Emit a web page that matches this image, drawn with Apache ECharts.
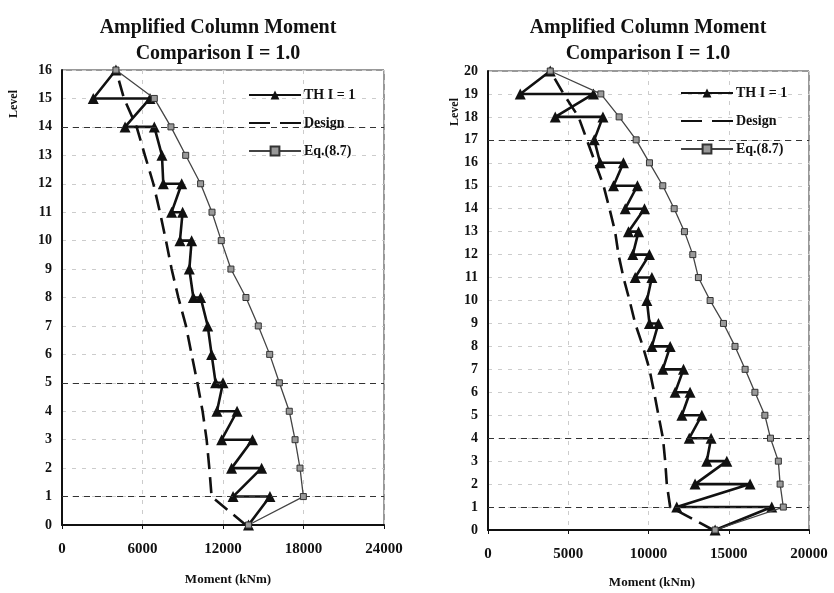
<!DOCTYPE html>
<html>
<head>
<meta charset="utf-8">
<script src="https://cdn.jsdelivr.net/npm/echarts@6/dist/echarts.min.js"></script>
<style>
  html, body { margin: 0; padding: 0; background: #ffffff; }
  #chart { width: 834px; height: 593px; }
</style>
</head>
<body>
<div id="chart"></div>
<script>
// ---- 16-storey frame (left panel) ----
const levelsLeft = [0, 1, 2, 3, 4, 5, 6, 7, 8, 9, 10, 11, 12, 13, 14, 15, 16];
// time-history moments: value reached at each level, then value leaving it
const thLeftHi = [13900, 15500, 14880, 14200, 13050, 12000, 11150, 10860, 10330, 9490, 9660, 8990, 8920, 7450, 6880, 6560, 4020];
const thLeftLo = [13900, 12750, 12640, 11900, 11550, 11450, 11150, 10860, 9790, 9490, 8790, 8170, 7550, 7450, 4700, 2330, 4020];
const designLeft = [13700, 11150, 10980, 10780, 10480, 10090, 9660, 9240, 8670, 8170, 7750, 7300, 6810, 6180, 5560, 4620, 4020];
const eqLeft = [13900, 17990, 17740, 17370, 16940, 16200, 15480, 14630, 13710, 12590, 11870, 11180, 10330, 9220, 8120, 6880, 4020];
const strongLevelsLeft = [1, 5, 14];

// ---- 20-storey frame (right panel) ----
const levelsRight = [0, 1, 2, 3, 4, 5, 6, 7, 8, 9, 10, 11, 12, 13, 14, 15, 16, 17, 18, 19, 20];
const thRightHi = [14150, 17680, 16330, 14880, 13900, 13320, 12590, 12180, 11350, 10620, 9900, 10210, 10060, 9380, 9750, 9310, 8440, 6620, 7160, 6570, 3880];
const thRightLo = [14150, 11760, 12900, 13630, 12540, 12080, 11660, 10890, 10210, 10060, 9900, 9170, 9020, 8750, 8550, 7820, 6990, 6620, 4190, 2010, 3880];
const designRight = [14030, 11350, 11140, 11040, 10900, 10620, 10350, 10060, 9650, 9170, 8820, 8440, 8130, 7920, 7570, 7200, 6680, 6160, 5640, 4710, 3880];
const eqRight = [14150, 18400, 18200, 18090, 17600, 17250, 16630, 16020, 15390, 14670, 13840, 13110, 12760, 12240, 11600, 10890, 10060, 9230, 8170, 7030, 3880];
const strongLevelsRight = [1, 4, 17];

const NAME_TH = 'TH I = 1';
const NAME_DESIGN = 'Design';
const NAME_EQ = 'Eq.(8.7)';
const titleText = 'Amplified Column Moment\nComparison I = 1.0';

const SERIF = '"Liberation Serif", "Times New Roman", serif';

// zig-zag path: arrive at a level, then step across to the value that leaves it
function zigzag(hi, lo, levels) {
  const pts = [];
  levels.forEach((lv, i) => {
    pts.push([hi[i], lv]);
    if (lo[i] !== hi[i]) pts.push([lo[i], lv]);
  });
  return pts;
}
function pairs(values, levels) {
  return values.map((v, i) => [v, levels[i]]);
}

function xAxisCfg(gridIndex, max, interval) {
  return {
    type: 'value', gridIndex: gridIndex, min: 0, max: max, interval: interval,
    axisLine: { show: true, lineStyle: { color: '#111', width: 2 } },
    axisTick: { show: true, length: 4, lineStyle: { color: '#111' } },
    axisLabel: { margin: 17, color: '#111', fontFamily: SERIF, fontWeight: 'bold', fontSize: 15,
                 formatter: v => String(v) },
    splitLine: { show: true, lineStyle: { color: '#cccccc', type: [4, 6], width: 1 } }
  };
}
function yAxisCfg(gridIndex, max) {
  return {
    type: 'value', gridIndex: gridIndex, min: 0, max: max, interval: 1,
    axisLine: { show: true, lineStyle: { color: '#111', width: 2 } },
    axisTick: { show: false },
    axisLabel: { margin: 10, color: '#111', fontFamily: SERIF, fontWeight: 'bold', fontSize: 14,
                 formatter: v => String(v) },
    splitLine: { show: true, lineStyle: { color: '#cccccc', type: [4, 6], width: 1 } }
  };
}
function seriesFor(idx, hi, lo, design, eq, levels, strong) {
  return [
    {
      name: NAME_TH, type: 'line', xAxisIndex: idx, yAxisIndex: idx,
      data: zigzag(hi, lo, levels),
      symbol: 'triangle', symbolSize: 11, showSymbol: true,
      lineStyle: { color: '#111', width: 2.6 },
      itemStyle: { color: '#111' },
      z: 4, animation: false
    },
    {
      name: NAME_DESIGN, type: 'line', xAxisIndex: idx, yAxisIndex: idx,
      data: pairs(design, levels),
      symbol: 'none', showSymbol: false,
      lineStyle: { color: '#111', width: 2.6, type: [16, 8] },
      itemStyle: { color: '#111' },
      z: 3, animation: false,
      markLine: {
        silent: true, symbol: 'none', animation: false,
        label: { show: false },
        lineStyle: { color: '#333', type: [6, 5], width: 1 },
        data: strong.map(v => ({ yAxis: v }))
      }
    },
    {
      name: NAME_EQ, type: 'line', xAxisIndex: idx, yAxisIndex: idx,
      data: pairs(eq, levels),
      symbol: 'rect', symbolSize: 6,
      lineStyle: { color: '#444', width: 1.3 },
      itemStyle: { color: '#999', borderColor: '#333', borderWidth: 1 },
      z: 5, animation: false
    }
  ];
}
function legendCfg(left, top) {
  return {
    orient: 'vertical', left: left, top: top, padding: 0,
    itemWidth: 52, itemHeight: 11, itemGap: 14,
    textStyle: { color: '#111', fontFamily: SERIF, fontWeight: 'bold', fontSize: 14, padding: [0, 0, 0, -2] },
    data: [
      { name: NAME_TH },
      { name: NAME_DESIGN, itemStyle: { opacity: 0 }, lineStyle: { type: [21, 10] } },
      { name: NAME_EQ }
    ],
    selectedMode: false
  };
}
function labelText(text, x, y, size, rotate) {
  return {
    type: 'text', x: x, y: y, rotation: rotate ? Math.PI / 2 : 0,
    style: {
      text: text, fill: '#111', font: 'bold ' + size + 'px ' + SERIF,
      textAlign: 'center', textVerticalAlign: 'middle'
    }
  };
}

const chart = echarts.init(document.getElementById('chart'), null, { renderer: 'canvas' });
chart.setOption({
  backgroundColor: '#ffffff',
  animation: false,
  title: [
    { text: titleText, left: 213, top: 10, textAlign: 'center',
      textStyle: { fontFamily: SERIF, fontWeight: 'bold', fontSize: 20, lineHeight: 26, color: '#111' } },
    { text: titleText, left: 643, top: 10, textAlign: 'center',
      textStyle: { fontFamily: SERIF, fontWeight: 'bold', fontSize: 20, lineHeight: 26, color: '#111' } }
  ],
  grid: [
    { left: 62, top: 70, width: 322, height: 455, show: true, borderColor: '#333', borderWidth: 1, backgroundColor: 'transparent' },
    { left: 488, top: 71, width: 321, height: 459, show: true, borderColor: '#333', borderWidth: 1, backgroundColor: 'transparent' }
  ],
  xAxis: [xAxisCfg(0, 24000, 6000), xAxisCfg(1, 20000, 5000)],
  yAxis: [yAxisCfg(0, 16), yAxisCfg(1, 20)],
  legend: [legendCfg(248, 88), legendCfg(680, 86)],
  series: [].concat(
    seriesFor(0, thLeftHi, thLeftLo, designLeft, eqLeft, levelsLeft, strongLevelsLeft),
    seriesFor(1, thRightHi, thRightLo, designRight, eqRight, levelsRight, strongLevelsRight)
  ),
  graphic: [
    labelText('Level', 14, 104, 12, true),
    labelText('Level', 455, 112, 12, true),
    labelText('Moment (kNm)', 228, 580, 13, false),
    labelText('Moment (kNm)', 652, 583, 13, false)
  ]
});
</script>
</body>
</html>
